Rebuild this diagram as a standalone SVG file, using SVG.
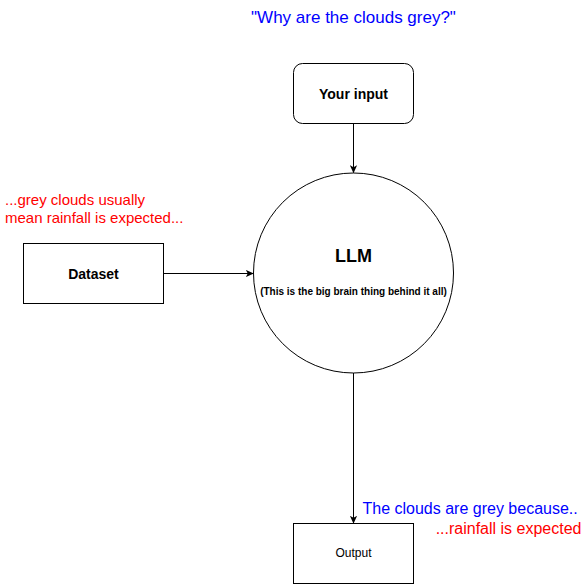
<svg xmlns="http://www.w3.org/2000/svg" width="586" height="587" viewBox="0 0 586 587">
<defs>
<style>
.box{fill:#fff;stroke:#000;stroke-width:1}
.t{font-family:"Liberation Sans",Arial,sans-serif;fill:#000}
.b{font-weight:bold}
.edge{fill:none;stroke:#000;stroke-width:1}
.blue{fill:#0000FF}
.red{fill:#FF0000}
</style>
<marker id="arr" viewBox="0 0 10 10" refX="9" refY="5" markerWidth="8" markerHeight="8" markerUnits="userSpaceOnUse" orient="auto">
<path d="M0,0.5 L10,5 L0,9.5 L2.5,5 Z" fill="#000"/>
</marker>
</defs>
<rect width="586" height="587" fill="#fff"/>
<g id="connectors">
<path class="edge" d="M353.5,123.5 L353.5,172.5" marker-end="url(#arr)"/>
<path class="edge" d="M163.5,273.5 L253,273.5" marker-end="url(#arr)"/>
<path class="edge" d="M353.5,373 L353.5,523" marker-end="url(#arr)"/>
</g>
<g id="label-question">
<text class="t blue" x="353.5" y="23" font-size="17" text-anchor="middle">"Why are the clouds grey?"</text>
</g>
<g id="node-input">
<rect class="box" x="293.5" y="63.5" width="120" height="60" rx="9" ry="9"/>
<text class="t b" x="353.5" y="98.5" font-size="14" text-anchor="middle">Your input</text>
</g>
<g id="label-dataset">
<text class="t red" x="5" y="205" font-size="15">...grey clouds usually</text>
<text class="t red" x="5" y="223" font-size="15">mean rainfall is expected...</text>
</g>
<g id="node-dataset">
<rect class="box" x="23.5" y="243.5" width="140" height="60"/>
<text class="t b" x="93.5" y="278.5" font-size="14" text-anchor="middle">Dataset</text>
</g>
<g id="node-llm">
<circle class="box" cx="353.5" cy="273" r="100"/>
<text class="t b" x="353.5" y="261.5" font-size="18" text-anchor="middle">LLM</text>
<text class="t b" x="353.5" y="295" font-size="10" text-anchor="middle">(This is the big brain thing behind it all)</text>
</g>
<g id="label-output">
<text class="t blue" x="362.5" y="513.5" font-size="16">The clouds are grey because..</text>
<text class="t red" x="581.5" y="533.5" font-size="16" text-anchor="end">...rainfall is expected</text>
</g>
<g id="node-output">
<rect class="box" x="293.5" y="523.5" width="120" height="60"/>
<text class="t" x="353.5" y="557" font-size="12" text-anchor="middle">Output</text>
</g>
</svg>
